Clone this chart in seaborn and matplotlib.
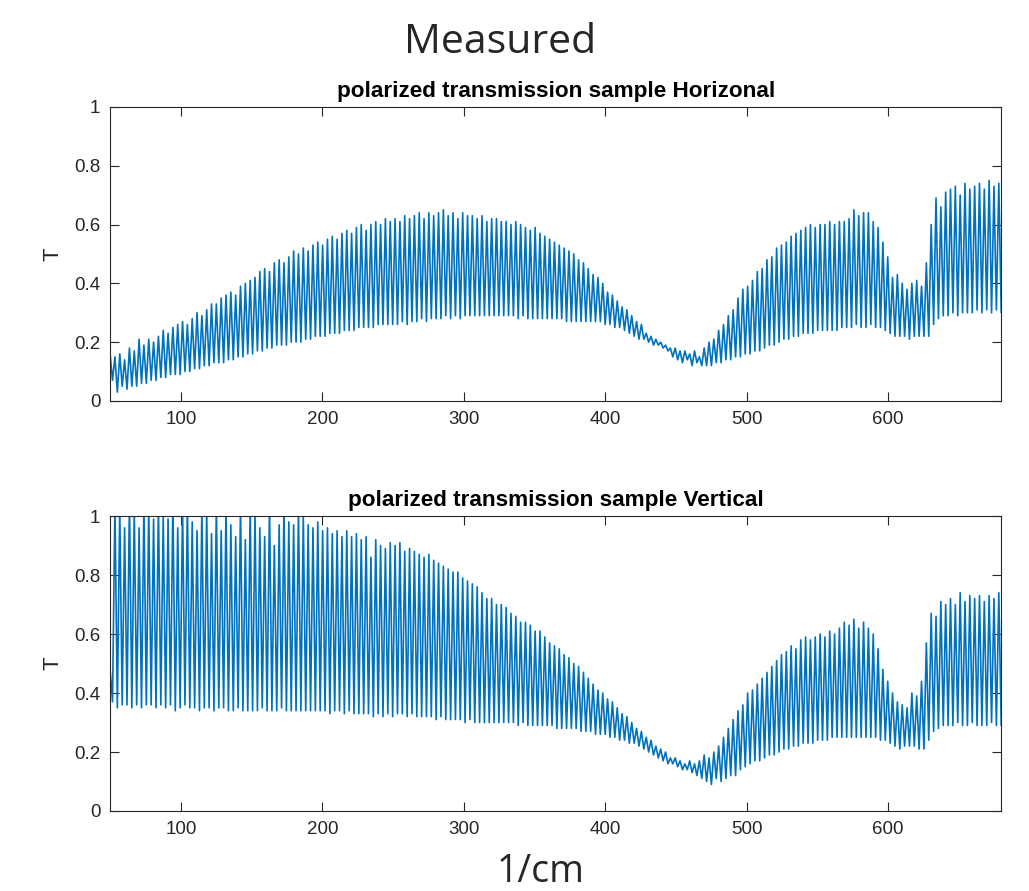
import numpy as np
import pandas as pd
import seaborn as sns
import matplotlib
matplotlib.use("Agg")
import matplotlib.pyplot as plt
from matplotlib.ticker import FormatStrFormatter

# fringe tops / bottoms (T x 100), one entry per fringe, 50 -> 680 1/cm
horiz_peak = [16, 15, 16, 14, 18, 17, 21, 19, 21, 20,
              22, 24, 23, 25, 26, 27, 26, 28, 30, 29,
              31, 33, 33, 35, 36, 37, 36, 39, 40, 41,
              42, 44, 45, 44, 47, 48, 47, 49, 51, 50,
              52, 51, 53, 54, 53, 55, 56, 55, 57, 58,
              57, 59, 60, 58, 60, 61, 60, 62, 61, 62,
              61, 63, 62, 63, 64, 62, 64, 63, 64, 65,
              63, 64, 62, 64, 63, 63, 62, 63, 61, 62,
              62, 61, 61, 60, 61, 60, 59, 58, 59, 57,
              56, 55, 54, 53, 52, 51, 50, 48, 47, 45,
              43, 42, 40, 37, 36, 34, 32, 31, 29, 27,
              26, 23, 22, 21, 20, 19, 18, 18, 17, 17,
              16, 17, 15, 18, 20, 21, 24, 26, 29, 31,
              35, 38, 39, 41, 44, 45, 48, 49, 52, 53,
              54, 56, 57, 58, 59, 60, 59, 60, 60, 61,
              60, 61, 61, 62, 65, 63, 64, 64, 61, 59,
              54, 49, 42, 43, 40, 38, 40, 41, 39, 47,
              60, 69, 66, 71, 72, 73, 70, 74, 72, 73,
              74, 72, 75, 73, 74]
horiz_trough = [7, 3, 5, 4, 5, 5, 6, 6, 7, 7,
                8, 8, 9, 9, 9, 10, 10, 11, 11, 12,
                12, 13, 13, 13, 14, 14, 15, 15, 16, 16,
                17, 17, 18, 18, 19, 19, 19, 20, 20, 20,
                21, 21, 22, 22, 22, 23, 23, 23, 24, 24,
                24, 25, 25, 25, 25, 26, 26, 26, 26, 26,
                27, 26, 27, 27, 28, 27, 28, 28, 28, 29,
                28, 29, 28, 29, 29, 29, 29, 29, 29, 29,
                29, 29, 29, 29, 28, 29, 28, 28, 28, 28,
                28, 28, 28, 28, 27, 27, 27, 27, 27, 27,
                27, 27, 26, 26, 25, 25, 24, 23, 22, 21,
                21, 20, 19, 19, 18, 17, 15, 14, 13, 14,
                12, 13, 12, 12, 12, 13, 13, 14, 14, 15,
                15, 16, 16, 17, 17, 18, 19, 19, 20, 21,
                21, 22, 22, 23, 23, 23, 24, 24, 24, 24,
                24, 25, 25, 25, 26, 25, 25, 26, 25, 25,
                24, 23, 22, 22, 22, 21, 22, 22, 22, 22,
                26, 28, 29, 29, 30, 29, 30, 30, 30, 31,
                30, 31, 30, 31, 30]
vert_peak = [48, 104, 103, 96, 105, 102, 96, 104, 103, 99,
             104, 100, 99, 105, 96, 103, 104, 98, 95, 103,
             102, 94, 104, 95, 103, 97, 93, 104, 92, 103,
             101, 96, 93, 104, 90, 97, 103, 98, 97, 102,
             100, 97, 96, 98, 95, 96, 94, 95, 93, 95,
             93, 94, 92, 93, 86, 92, 90, 89, 91, 90,
             91, 88, 89, 88, 87, 86, 87, 85, 84, 83,
             82, 81, 81, 79, 78, 77, 76, 74, 72, 72,
             70, 70, 69, 67, 66, 64, 64, 63, 61, 61,
             59, 57, 56, 55, 53, 52, 50, 49, 47, 45,
             43, 41, 40, 38, 37, 35, 33, 32, 30, 28,
             27, 25, 24, 22, 21, 20, 18, 18, 17, 16,
             17, 16, 17, 19, 18, 20, 22, 25, 28, 31,
             34, 36, 40, 41, 43, 45, 47, 49, 51, 53,
             54, 56, 55, 58, 59, 58, 59, 60, 59, 61,
             60, 62, 64, 63, 65, 62, 64, 62, 60, 55,
             48, 44, 40, 37, 36, 35, 40, 39, 44, 57,
             67, 66, 71, 70, 72, 70, 74, 71, 73, 72,
             73, 71, 73, 72, 74]
vert_trough = [37, 35, 36, 36, 35, 36, 35, 36, 36, 35,
               36, 35, 36, 34, 35, 36, 35, 35, 34, 35,
               35, 34, 35, 35, 34, 34, 35, 34, 34, 34,
               34, 35, 34, 34, 34, 35, 34, 34, 34, 34,
               34, 34, 34, 34, 34, 33, 34, 34, 33, 34,
               33, 33, 33, 33, 32, 33, 32, 33, 32, 33,
               33, 32, 33, 32, 32, 32, 32, 31, 32, 31,
               31, 31, 31, 30, 31, 30, 30, 30, 30, 30,
               30, 30, 30, 30, 29, 30, 29, 29, 29, 29,
               29, 29, 28, 28, 28, 28, 28, 27, 27, 27,
               26, 26, 26, 25, 25, 24, 24, 23, 23, 22,
               21, 20, 19, 18, 17, 16, 16, 15, 14, 14,
               13, 12, 11, 10, 9, 11, 10, 11, 12, 12,
               14, 15, 16, 17, 17, 18, 19, 19, 20, 21,
               21, 22, 22, 23, 23, 23, 24, 24, 24, 25,
               25, 25, 25, 25, 25, 25, 25, 25, 25, 24,
               24, 23, 22, 21, 22, 22, 22, 21, 21, 24,
               27, 28, 29, 29, 29, 30, 29, 29, 30, 29,
               29, 29, 30, 29, 29]

titles = ["polarized transmission sample Horizonal",
          "polarized transmission sample Vertical"]
x_ticks = [100, 200, 300, 400, 500, 600]
y_ticks = [0, 0.2, 0.4, 0.6, 0.8, 1]
x_min, x_max = 50, 680


def fringe_frame(peaks, troughs):
    vals = np.empty(2 * len(peaks))
    vals[0::2] = peaks
    vals[1::2] = troughs
    wn = np.linspace(x_min, x_max, len(vals))
    return pd.DataFrame({"wn": wn, "T": vals / 100.0})


sns.set_style("ticks")
plt.rcParams['font.family'] = ['Liberation Sans', 'DejaVu Sans']

fig = plt.figure(figsize=(10.29, 8.91), dpi=100)
ax_top = fig.add_axes([0.107, 0.550, 0.866, 0.330])
ax_bot = fig.add_axes([0.107, 0.0898, 0.866, 0.331])

dark = '#262626'
for ax, peaks, troughs, title in [(ax_top, horiz_peak, horiz_trough, titles[0]),
                                  (ax_bot, vert_peak, vert_trough, titles[1])]:
    df = fringe_frame(peaks, troughs)
    sns.lineplot(data=df, x="wn", y="T", ax=ax, color='#0072BD', linewidth=1.2)
    ax.set_xlim(x_min, x_max)
    ax.set_ylim(0, 1)
    ax.set_xticks(x_ticks)
    ax.set_yticks(y_ticks)
    ax.yaxis.set_major_formatter(FormatStrFormatter('%g'))
    ax.tick_params(direction='in', top=True, right=True, length=6.5, width=0.8,
                   colors=dark, labelsize=13.5, pad=7)
    for s in ax.spines.values():
        s.set_color(dark)
        s.set_linewidth(0.8)
    ax.set_xlabel("")
    ax.set_ylabel("T", fontsize=16, color=dark, labelpad=8)
    ax.set_title(title, fontsize=16.2, fontweight='bold', pad=7, color='black')

fig.text(0.486, 0.952, "Measured", ha='center', va='center', fontsize=29.5,
         family=['Open Sans', 'DejaVu Sans'])
fig.text(0.525, 0.021, "1/cm", ha='center', va='center', fontsize=27,
         family=['Open Sans', 'DejaVu Sans'])

fig.savefig("out.png", dpi=100)
